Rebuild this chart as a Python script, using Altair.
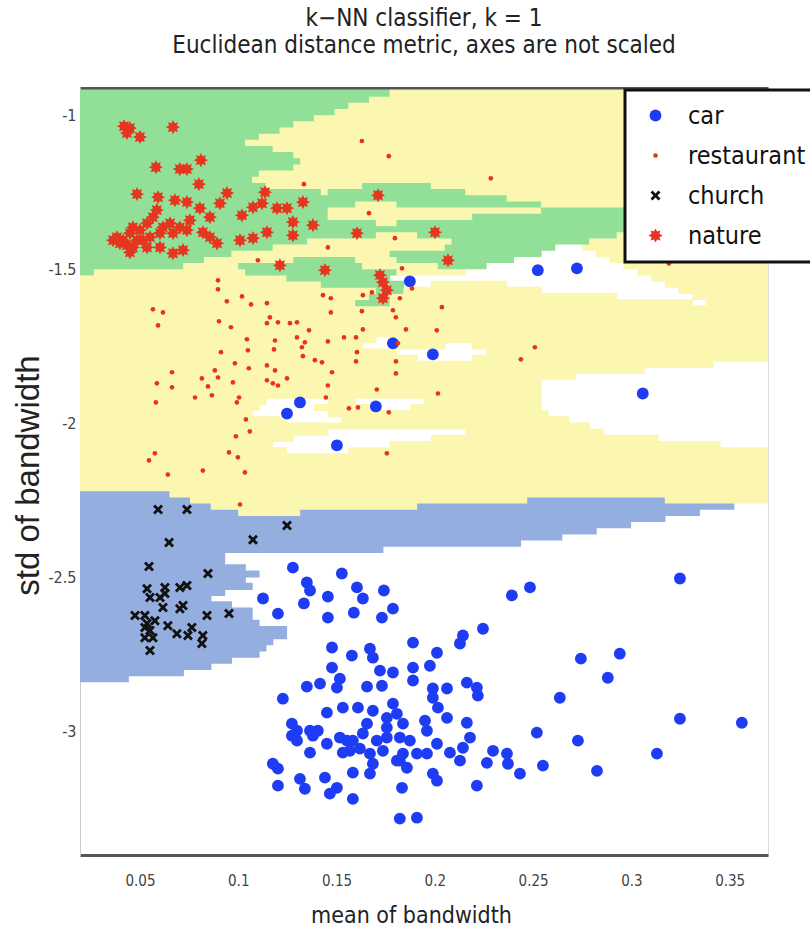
import numpy as np
import pandas as pd
import altair as alt

# ---------------- data ----------------
classes = ["car", "restaurant", "church", "nature"]

car_x = [0.1873, 0.2524, 0.2723, 0.199, 0.1787, 0.3058, 0.1314, 0.1248, 0.1502, 0.17,
         0.1278, 0.1349, 0.1365, 0.1527, 0.1604, 0.1634, 0.1741, 0.1126, 0.1202, 0.1334,
         0.1456, 0.1456, 0.1588, 0.1731, 0.1787, 0.2392, 0.2484, 0.2245, 0.2143, 0.2128,
         0.1889, 0.2011, 0.1975, 0.1889, 0.1889, 0.1477, 0.1578, 0.167, 0.1685, 0.1477,
         0.1721, 0.1787, 0.1517, 0.1502, 0.1349, 0.1416, 0.1655, 0.1731, 0.1227, 0.199,
         0.199, 0.2062, 0.2163, 0.2214, 0.2219, 0.2016, 0.2062, 0.1532, 0.1609, 0.1685,
         0.1451, 0.1787, 0.1807, 0.1756, 0.1655, 0.1756, 0.1838, 0.1273, 0.1299, 0.1365,
         0.1405, 0.138, 0.1517, 0.1553, 0.1583, 0.1634, 0.1705, 0.1756, 0.1822, 0.1873,
         0.195, 0.196, 0.2011, 0.2163, 0.2179, 0.2143, 0.2077, 0.2128, 0.196, 0.1909,
         0.1838, 0.1807, 0.1736, 0.167, 0.1619, 0.1568, 0.1532, 0.1451, 0.1365, 0.1299,
         0.1273, 0.1176, 0.1202, 0.1202, 0.1314, 0.1339, 0.1441, 0.1466, 0.1502, 0.1583,
         0.1583, 0.167, 0.1685, 0.1822, 0.1858, 0.1833, 0.199, 0.2011, 0.2214, 0.2296,
         0.2265, 0.2367, 0.2372, 0.2433, 0.2519, 0.255, 0.1822, 0.1909, 0.2636, 0.2743,
         0.2941, 0.288, 0.3247, 0.3562, 0.2728, 0.313, 0.2825, 0.3247]
car_y = [-1.539, -1.503, -1.497, -1.776, -1.740, -1.903, -1.932, -1.968, -2.071, -1.945,
         -2.468, -2.516, -2.542, -2.487, -2.532, -2.568, -2.542, -2.568, -2.617, -2.584,
         -2.562, -2.630, -2.614, -2.630, -2.601, -2.558, -2.532, -2.666, -2.688, -2.714,
         -2.711, -2.744, -2.786, -2.792, -2.834, -2.727, -2.753, -2.731, -2.760, -2.792,
         -2.802, -2.808, -2.828, -2.857, -2.854, -2.844, -2.854, -2.851, -2.893, -2.860,
         -2.890, -2.860, -2.841, -2.857, -2.883, -2.922, -2.955, -2.922, -2.922, -2.932,
         -2.938, -2.909, -2.942, -2.955, -2.974, -2.987, -2.974, -2.974, -2.997, -2.997,
         -2.997, -3.013, -3.019, -3.029, -3.029, -3.006, -3.029, -3.019, -3.019, -3.029,
         -2.964, -2.997, -3.039, -2.971, -3.019, -3.052, -3.068, -3.094, -3.071, -3.071,
         -3.071, -3.094, -3.062, -3.071, -3.055, -3.062, -3.068, -3.039, -3.068, -3.029,
         -3.013, -3.104, -3.120, -3.175, -3.153, -3.185, -3.149, -3.201, -3.182, -3.133,
         -3.218, -3.136, -3.104, -3.094, -3.117, -3.182, -3.136, -3.159, -3.175, -3.062,
         -3.101, -3.071, -3.104, -3.136, -3.003, -3.110, -3.282, -3.279, -2.890, -2.763,
         -2.747, -2.825, -2.958, -2.971, -3.029, -3.071, -3.127, -2.503]

restaurant_x = [0.0897, 0.0897, 0.0566, 0.0617, 0.0592, 0.0942, 0.1019, 0.1065, 0.1146, 0.0902,
                0.0963, 0.1161, 0.1146, 0.1202, 0.1263, 0.1299, 0.136, 0.1299, 0.1339, 0.1324,
                0.1044, 0.1049, 0.0912, 0.1187, 0.1182, 0.1329, 0.139, 0.1426, 0.1456, 0.1538,
                0.1599, 0.1634, 0.1629, 0.1471, 0.1471, 0.1431, 0.1634, 0.168, 0.1787, 0.1802,
                0.1853, 0.1812, 0.1802, 0.1802, 0.201, 0.1604, 0.1599, 0.1477, 0.1456, 0.1446,
                0.1563, 0.1609, 0.1705, 0.1766, 0.1756, 0.0983, 0.1054, 0.1146, 0.1187, 0.1248,
                0.1146, 0.1176, 0.1202, 0.0973, 0.0897, 0.0815, 0.0846, 0.0866, 0.0663, 0.0663,
                0.0586, 0.0581, 0.078, 0.1004, 0.0993, 0.1039, 0.1059, 0.0988, 0.0953, 0.0998,
                0.1034, 0.082, 0.0642, 0.0576, 0.0546, 0.1009, 0.0881, 0.2016, 0.1629, 0.1766,
                0.1334, 0.1665, 0.1456, 0.1797, 0.1833, 0.11, 0.2285, 0.3191, 0.2036, 0.2509,
                0.2438, 0.1822, 0.1884]
restaurant_y = [-1.536, -1.565, -1.630, -1.640, -1.682, -1.604, -1.588, -1.614, -1.610, -1.669,
                -1.688, -1.656, -1.675, -1.672, -1.675, -1.672, -1.698, -1.721, -1.737, -1.753,
                -1.727, -1.763, -1.769, -1.731, -1.760, -1.782, -1.795, -1.802, -1.734, -1.721,
                -1.721, -1.695, -1.636, -1.640, -1.594, -1.584, -1.584, -1.575, -1.633, -1.656,
                -1.695, -1.740, -1.799, -1.838, -1.698, -1.769, -1.799, -1.834, -1.877, -1.916,
                -1.951, -1.948, -1.890, -1.964, -2.097, -1.805, -1.821, -1.812, -1.828, -1.854,
                -1.860, -1.870, -1.877, -1.867, -1.851, -1.854, -1.880, -1.909, -1.834, -1.883,
                -1.870, -1.932, -1.916, -1.916, -1.932, -1.987, -2.026, -2.042, -2.094, -2.110,
                -2.159, -2.153, -2.166, -2.097, -2.120, -2.263, -1.828, -1.903, -1.084, -1.133,
                -1.224, -1.318, -1.429, -1.399, -1.497, -1.471, -1.205, -1.481, -1.623, -1.753,
                -1.792, -1.594, -1.562]

church_x = [0.0592, 0.0739, 0.0648, 0.0546, 0.0846, 0.1248, 0.1075, 0.0536, 0.0551, 0.0627,
            0.0627, 0.0703, 0.0739, 0.0617, 0.0703, 0.0719, 0.0475, 0.0525, 0.0536, 0.0551,
            0.0525, 0.0566, 0.0642, 0.0688, 0.0744, 0.0764, 0.082, 0.0815, 0.0841, 0.0953,
            0.0551, 0.0602, 0.0525, 0.0576]
church_y = [-2.279, -2.279, -2.386, -2.464, -2.487, -2.331, -2.377, -2.536, -2.565, -2.532,
            -2.552, -2.532, -2.526, -2.597, -2.601, -2.591, -2.623, -2.623, -2.649, -2.672,
            -2.695, -2.695, -2.656, -2.682, -2.688, -2.662, -2.688, -2.714, -2.623, -2.617,
            -2.737, -2.565, -2.662, -2.640]

nature_x = [0.0419, 0.0449, 0.0434, 0.05, 0.0668, 0.0581, 0.0703, 0.0739, 0.081, 0.080,
            0.0485, 0.0592, 0.0678, 0.0739, 0.0943, 0.0907, 0.1136, 0.1121, 0.1075, 0.1197,
            0.1019, 0.0805, 0.0856, 0.0383, 0.0414, 0.0449, 0.0464, 0.05, 0.0536, 0.0566,
            0.0586, 0.0551, 0.0602, 0.0617, 0.0653, 0.0464, 0.0449, 0.0536, 0.0602, 0.0363,
            0.0668, 0.0703, 0.0754, 0.0739, 0.082, 0.0856, 0.0892, 0.0719, 0.1009, 0.1075,
            0.1146, 0.0668, 0.1212, 0.1441, 0.1604, 0.1711, 0.138, 0.1329, 0.1278, 0.1278,
            0.1248, 0.1736, 0.1721, 0.1756, 0.1736, 0.2001, 0.2067, 0.0398, 0.0485, 0.0515,
            0.0434]
nature_y = [-1.036, -1.042, -1.058, -1.071, -1.039, -1.169, -1.175, -1.175, -1.146, -1.224,
            -1.256, -1.266, -1.276, -1.282, -1.253, -1.286, -1.250, -1.286, -1.299, -1.302,
            -1.325, -1.302, -1.331, -1.396, -1.406, -1.383, -1.364, -1.373, -1.351, -1.331,
            -1.308, -1.396, -1.383, -1.364, -1.351, -1.429, -1.445, -1.429, -1.429, -1.406,
            -1.383, -1.364, -1.341, -1.373, -1.380, -1.396, -1.416, -1.438, -1.406, -1.399,
            -1.380, -1.448, -1.487, -1.503, -1.383, -1.260, -1.357, -1.282, -1.390, -1.347,
            -1.302, -1.542, -1.519, -1.568, -1.594, -1.380, -1.471, -1.416, -1.406, -1.406,
            -1.422]

x_ticks = [0.05, 0.1, 0.15, 0.2, 0.25, 0.3, 0.35]
y_ticks = [-3, -2.5, -2, -1.5, -1]
x_domain = [0.0195, 0.3695]
y_domain = [-3.40, -0.912]

point_colors = ["#1f3cf5", "#e8341f", "#111111", "#e5361f"]
region_colors = {"restaurant": "#fbf7b0", "church": "#94aee0", "nature": "#92e098"}

# ---------------- frame ----------------
pts = pd.concat([
    pd.DataFrame({"x": car_x, "y": car_y, "cls": "car"}),
    pd.DataFrame({"x": restaurant_x, "y": restaurant_y, "cls": "restaurant"}),
    pd.DataFrame({"x": church_x, "y": church_y, "cls": "church"}),
    pd.DataFrame({"x": nature_x, "y": nature_y, "cls": "nature"}),
], ignore_index=True)
pts["ord"] = pts["cls"].map({c: i for i, c in enumerate(classes)})

# 1-NN decision regions (Euclidean, axes unscaled) on a grid; runs of equal class are merged
dx, dy = 0.0035, 0.02
gx = np.arange(x_domain[0] + dx / 2, x_domain[1], dx)
gy = np.arange(y_domain[0] + dy / 2, y_domain[1], dy)
P = pts[["x", "y"]].to_numpy()
lab = pts["cls"].to_numpy()
rows = []
for yv in gy:
    d2 = (gx[:, None] - P[None, :, 0]) ** 2 + (yv - P[None, :, 1]) ** 2
    c = lab[np.argmin(d2, axis=1)]
    i = 0
    n = len(gx)
    while i < n:
        j = i
        while j + 1 < n and c[j + 1] == c[i]:
            j += 1
        if c[i] != "car":
            rows.append({"x0": max(gx[i] - dx / 2, x_domain[0]),
                         "x1": min(gx[j] + dx / 2 + dx * 0.1, x_domain[1]),
                         "y0": max(yv - dy / 2, y_domain[0]),
                         "y1": min(yv + dy / 2 + dy * 0.15, y_domain[1]),
                         "fill": region_colors[c[i]]})
        i = j + 1
reg = pd.DataFrame(rows)

W, H = 688, 767
FONT = "DejaVu Sans Condensed, Liberation Sans, Arial, sans-serif"
xs = alt.Scale(domain=x_domain, nice=False, zero=False)
ys = alt.Scale(domain=y_domain, nice=False, zero=False)

y_axis = alt.Axis(values=y_ticks, labelExpr="datum.value + ''", ticks=False, tickSize=0,
                  grid=False, domainColor="#cccccc", domainWidth=1,
                  labelFont=FONT, labelFontSize=16, labelColor="#444444",
                  labelPadding=4, labelAlign="right", labelBaseline="middle",
                  titleFont="Liberation Sans", titleFontSize=33, titleFontWeight="normal",
                  titleColor="#222222", titleAngle=-90, titleX=-52, titleY=387,
                  titleAlign="center", titleBaseline="middle")

regions = alt.Chart(reg).mark_rect(clip=True, strokeWidth=0).encode(
    x=alt.X("x0:Q", scale=xs, axis=alt.Axis(orient="top", labels=False, ticks=False, grid=False,
                                             title=None, domainColor="#555555", domainWidth=3)),
    x2="x1:Q",
    y=alt.Y("y0:Q", scale=ys, title="std of bandwidth", axis=y_axis),
    y2="y1:Q",
    fill=alt.Fill("fill:N", scale=None),
)

star = ("M1,0L0.554,0.23L0.707,0.707L0.23,0.554L0,1L-0.23,0.554L-0.707,0.707L-0.554,0.23L-1,0"
        "L-0.554,-0.23L-0.707,-0.707L-0.23,-0.554L0,-1L0.23,-0.554L0.707,-0.707L0.554,-0.23Z")
xshape = ("M-1,-0.6L-0.6,-1L0,-0.4L0.6,-1L1,-0.6L0.4,0L1,0.6L0.6,1L0,0.4L-0.6,1L-1,0.6L-0.4,0Z")

leg = alt.Legend(title=None, orient="none", legendX=545, legendY=2, fillColor="white",
                 strokeColor="#111111", padding=13, symbolOffset=5, labelOffset=20,
                 rowPadding=14, labelFont=FONT, labelFontSize=25, labelColor="#111111",
                 symbolStrokeWidth=0)

points = alt.Chart(pts).mark_point(filled=True, opacity=1, strokeWidth=0).encode(
    x=alt.X("x:Q", scale=xs, title="mean of bandwidth",
            axis=alt.Axis(orient="bottom", values=x_ticks, format="~g", ticks=False, tickSize=0,
                          grid=False, domainColor="#555555", domainWidth=3,
                          labelFont=FONT, labelFontSize=15, labelColor="#444444",
                          labelPadding=25, labelBaseline="middle",
                          titleFont=FONT, titleFontSize=23, titleFontWeight="normal",
                          titleColor="#222222", titleX=331, titleY=60, titleBaseline="middle")),
    y=alt.Y("y:Q", scale=ys, title="std of bandwidth", axis=y_axis),
    color=alt.Color("cls:N", scale=alt.Scale(domain=classes, range=point_colors), legend=leg),
    shape=alt.Shape("cls:N", scale=alt.Scale(domain=classes, range=["circle", "circle", xshape, star]),
                    legend=leg),
    size=alt.Size("cls:N", scale=alt.Scale(type="ordinal", domain=classes, range=[140, 22, 100, 200]),
                  legend=leg),
    order=alt.Order("ord:Q"),
)

chart = alt.layer(regions, points).properties(
    width=W, height=H,
    title=alt.Title(["k\u2212NN classifier, k = 1", "Euclidean distance metric, axes are not scaled"],
                    font=FONT, fontSize=24, fontWeight="normal", color="#222222",
                    lineHeight=27, anchor="middle", offset=30),
    autosize=alt.AutoSizeParams(type="none"),
    padding={"left": 80, "top": 88, "right": 42, "bottom": 76},
).configure_view(stroke=None).configure(background="white").configure_legend(strokeWidth=3)

chart.save("out.html", embed_options={"renderer": "svg", "actions": False})
